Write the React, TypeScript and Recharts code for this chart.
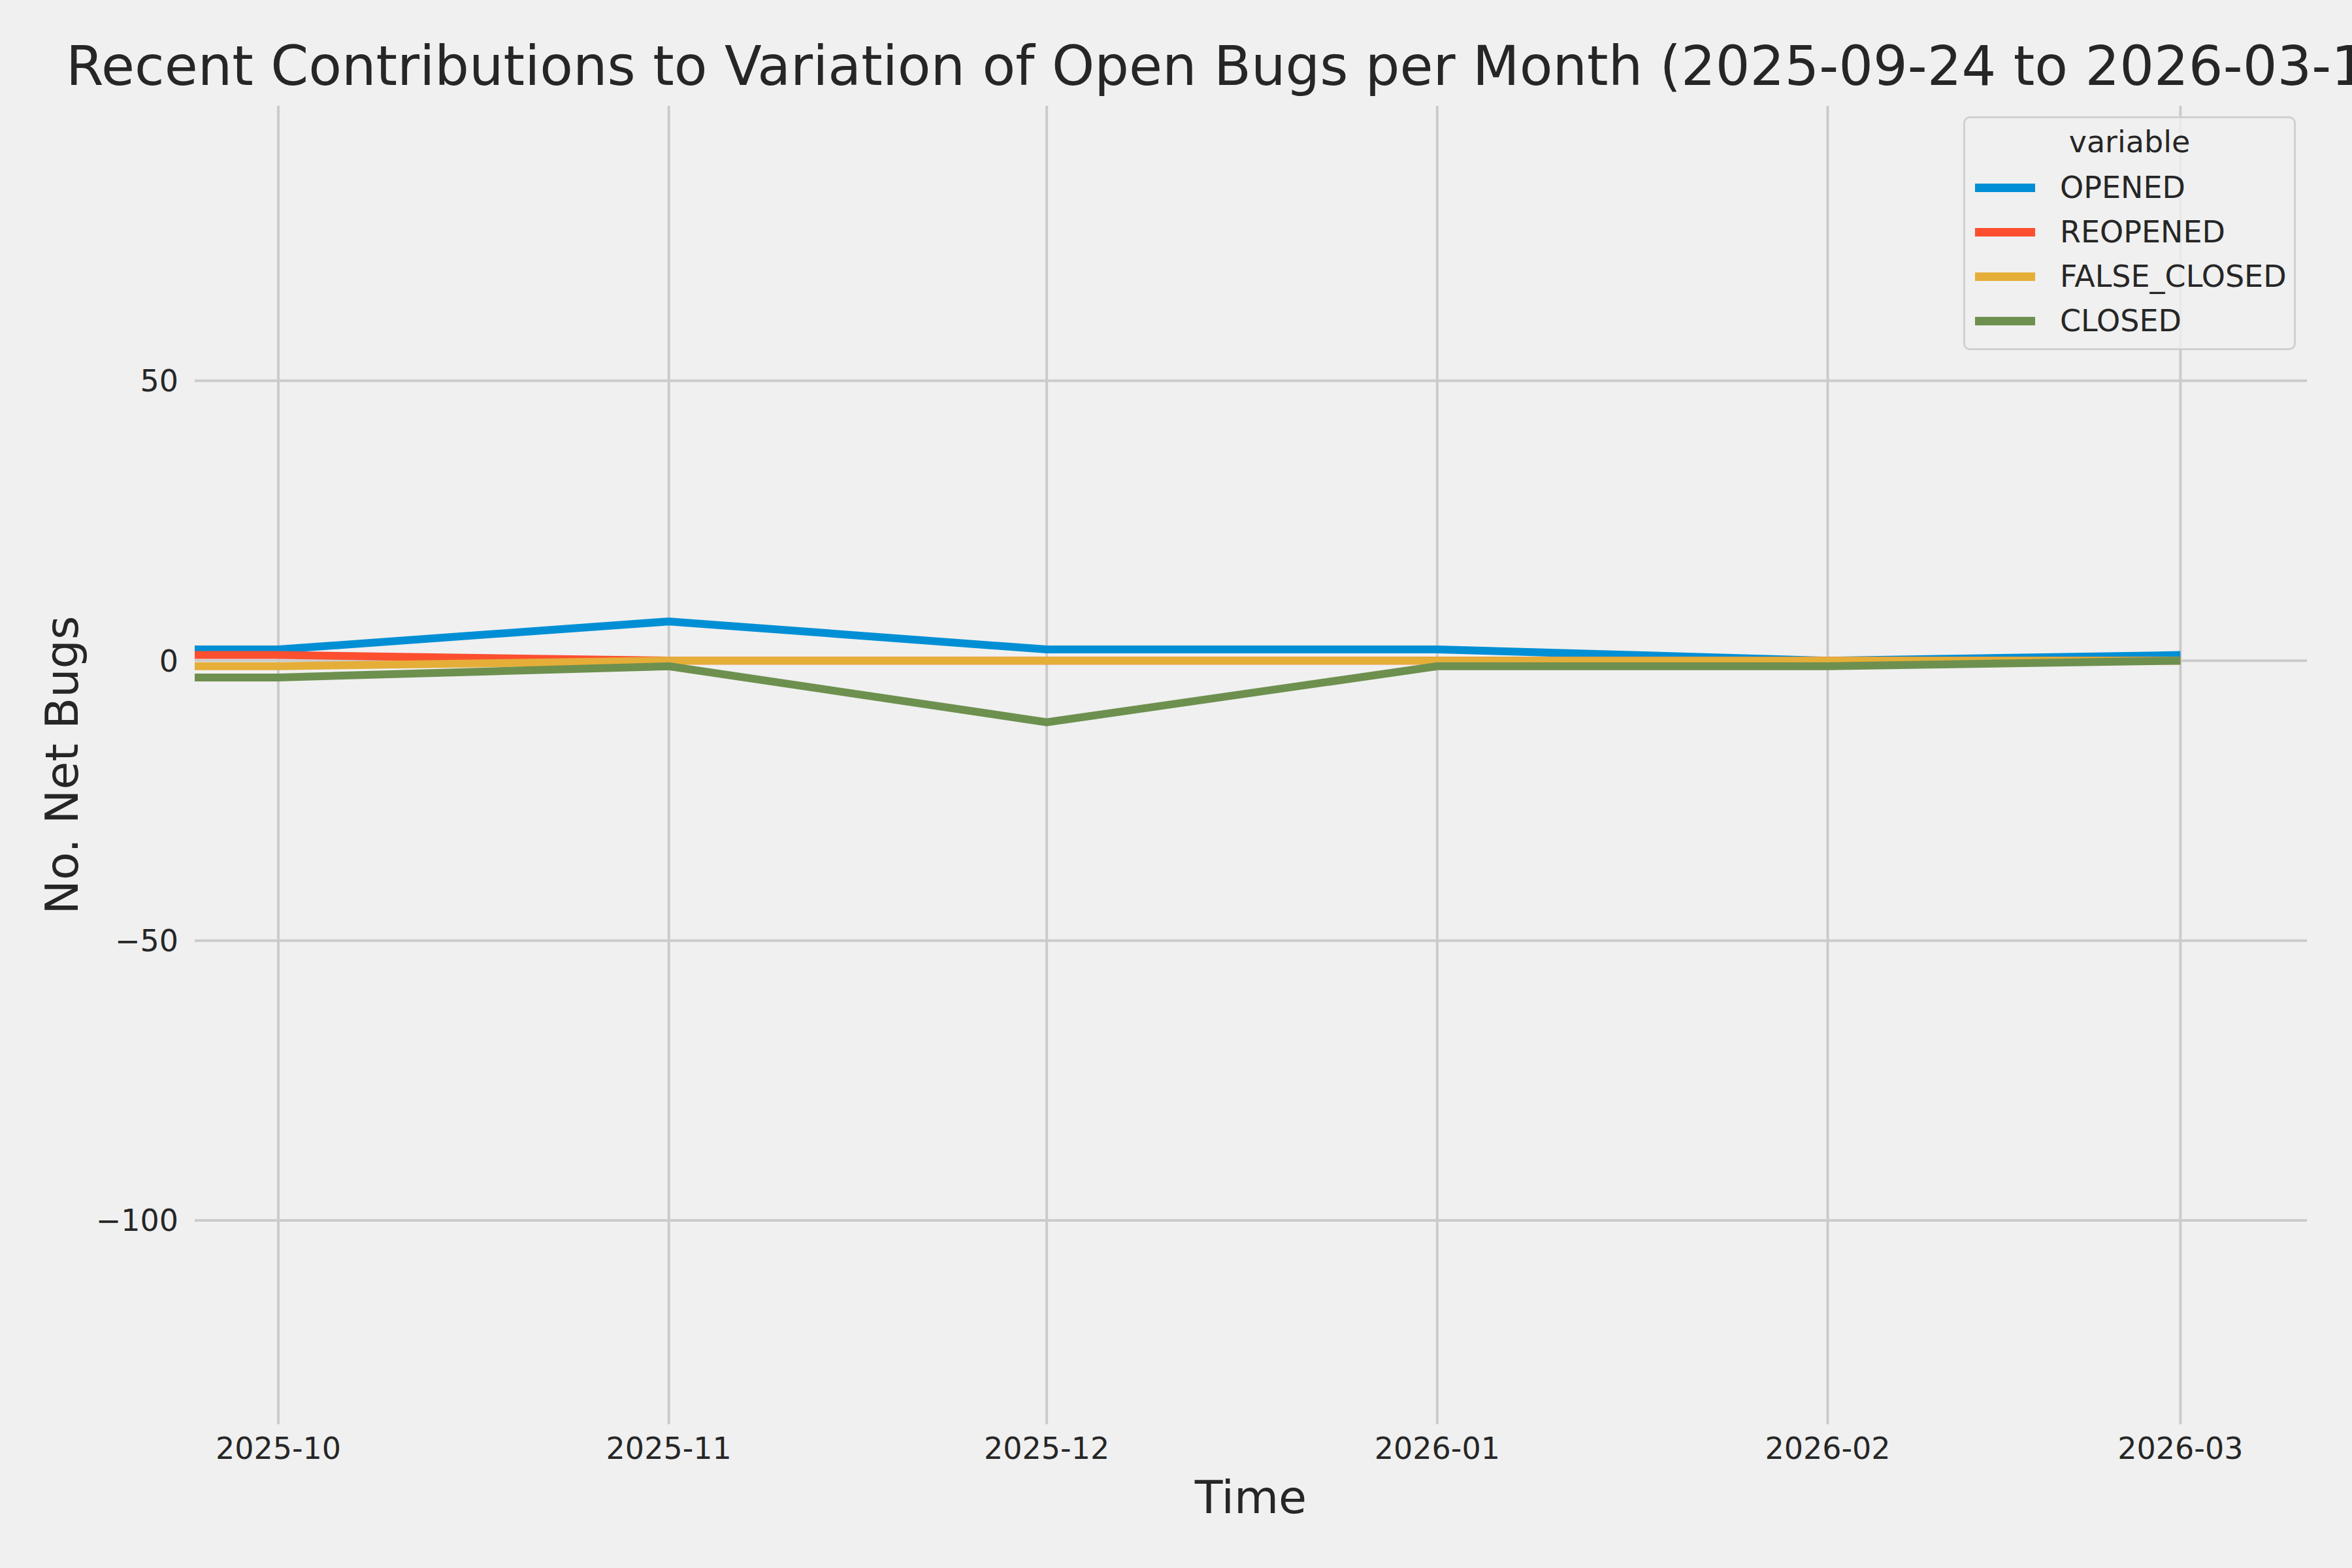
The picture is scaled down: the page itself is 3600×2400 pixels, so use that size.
import { LineChart, Line, XAxis, YAxis, CartesianGrid, Legend } from 'recharts';

const dates = ['2025-09-24', '2025-10-01', '2025-11-01', '2025-12-01', '2026-01-01', '2026-02-01', '2026-03-01'];
const opened = [2, 2, 7, 2, 2, 0, 1];
const reopened = [1, 1, 0, 0, 0, 0, 0];
const falseClosed = [-1, -1, 0, 0, 0, 0, 0];
const closed = [-3, -3, -1, -11, -1, -1, 0];

const monthTicks = ['2025-10', '2025-11', '2025-12', '2026-01', '2026-02', '2026-03'];
const yTicks = [-100, -50, 0, 50];

const series = [
  { key: 'OPENED', values: opened, color: '#008fd5' },
  { key: 'REOPENED', values: reopened, color: '#fc4f30' },
  { key: 'FALSE_CLOSED', values: falseClosed, color: '#e5ae38' },
  { key: 'CLOSED', values: closed, color: '#6d904f' },
];

const toTime = (d: string) => Date.parse(d + 'T00:00:00Z');

const data = dates.map((d, i) => {
  const row: Record<string, number> = { t: toTime(d) };
  series.forEach((s) => { row[s.key] = s.values[i]; });
  return row;
});

const tickValues = monthTicks.map((m) => toTime(m + '-01'));
const xDomain = [Date.parse('2025-09-24T08:40:00Z'), Date.parse('2026-03-11T01:00:00Z')];

const FONT = '"DejaVu Sans", sans-serif';
const INK = '#262626';

function fmtX(v: number) {
  const i = tickValues.indexOf(v);
  return i >= 0 ? monthTicks[i] : '';
}

function fmtY(v: number) {
  return v < 0 ? `\u2212${-v}` : `${v}`;
}

function XTitle(props: any) {
  const vb = props.viewBox;
  return (
    <text x={vb.x + vb.width / 2} y={vb.y + 136} textAnchor="middle"
      fontFamily={FONT} fontSize={70} fill={INK}>Time</text>
  );
}

function YTitle(props: any) {
  const vb = props.viewBox;
  const cx = vb.x + 21;
  const cy = vb.y + vb.height / 2;
  return (
    <text x={cx} y={cy} transform={`rotate(-90 ${cx} ${cy})`} textAnchor="middle"
      fontFamily={FONT} fontSize={70} fill={INK}>No. Net Bugs</text>
  );
}

function LegendBox() {
  return (
    <div style={{
      boxSizing: 'border-box', width: 509, height: 358, border: '3px solid #d0d0d0',
      borderRadius: 10, background: 'rgba(240,240,240,0.8)', fontFamily: FONT, color: INK, fontSize: 46,
    }}>
      <div style={{ height: 72, lineHeight: '72px', textAlign: 'center' }}>variable</div>
      {series.map((s) => (
        <div key={s.key} style={{ height: 68, display: 'flex', alignItems: 'center' }}>
          <span style={{ display: 'inline-block', width: 92, height: 13, marginLeft: 15, background: s.color }} />
          <span style={{ marginLeft: 38, lineHeight: '68px' }}>{s.key}</span>
        </div>
      ))}
    </div>
  );
}

export default function App() {
  return (
    <div style={{
      position: 'absolute', left: 0, top: 0, width: 3600, height: 2400,
      background: '#f0f0f0', overflow: 'hidden',
    }}>
      <div style={{
        position: 'absolute', left: 101, top: 60, fontFamily: FONT, fontSize: 83,
        lineHeight: '84px', color: INK, whiteSpace: 'nowrap',
      }}>
        Recent Contributions to Variation of Open Bugs per Month (2025-09-24 to 2026-03-11)
      </div>
      <LineChart width={3600} height={2400} data={data}
        margin={{ top: 162, right: 69, bottom: 60, left: 98 }}>
        <CartesianGrid stroke="#cbcbcb" strokeWidth={4} syncWithTicks />
        <XAxis dataKey="t" type="number" domain={xDomain} allowDataOverflow ticks={tickValues}
          interval={0} tickFormatter={fmtX} height={160} axisLine={false} tickLine={false}
          tickSize={0} tickMargin={20}
          tick={{ fontFamily: FONT, fontSize: 46, fill: INK }}
          label={<XTitle />} />
        <YAxis type="number" domain={[-136.4, 99.1]} allowDataOverflow ticks={yTicks} interval={0}
          tickFormatter={fmtY} width={200} axisLine={false} tickLine={false}
          tickSize={0} tickMargin={25}
          tick={{ fontFamily: FONT, fontSize: 46, fill: INK }}
          label={<YTitle />} />
        <Legend layout="vertical" align="center" verticalAlign="middle"
          wrapperStyle={{ left: 3005, top: 178, width: 509, height: 358 }}
          content={<LegendBox />} />
        {series.map((s) => (
          <Line key={s.key} type="linear" dataKey={s.key} name={s.key} stroke={s.color}
            strokeWidth={12} dot={false} activeDot={false} strokeLinecap="butt"
            strokeLinejoin="round" isAnimationActive={false} />
        ))}
      </LineChart>
    </div>
  );
}
